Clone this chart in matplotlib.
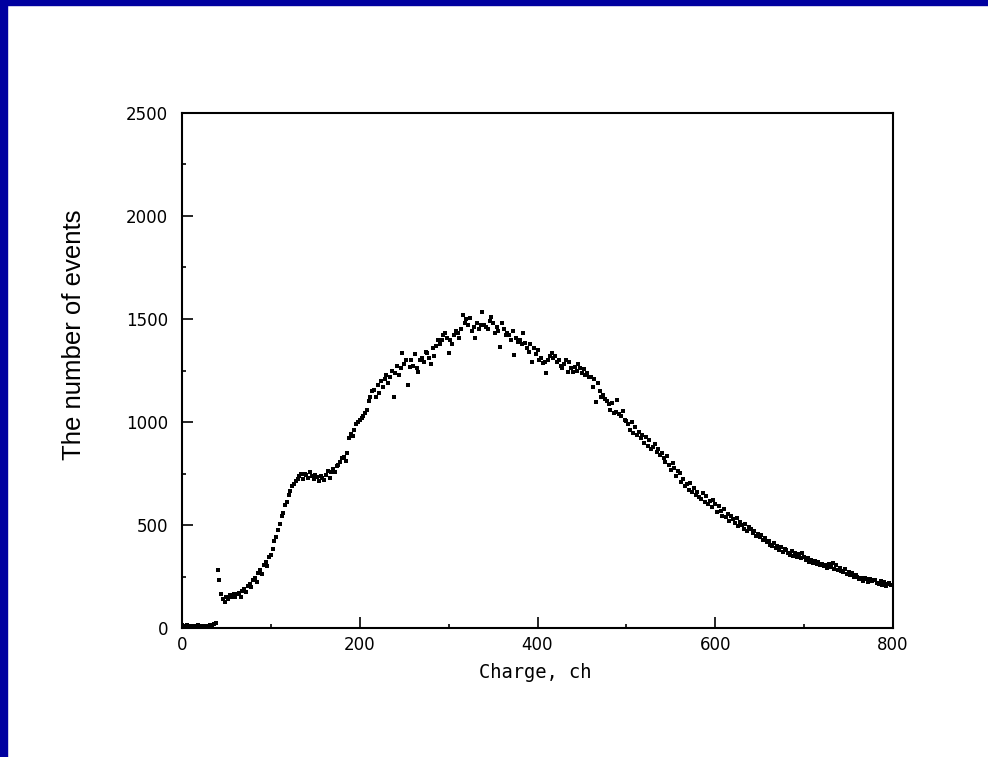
import numpy as np
import matplotlib
matplotlib.use('Agg')
import matplotlib.pyplot as plt
from matplotlib.patches import Rectangle
from matplotlib.ticker import MultipleLocator

# channel bins, 2 ch wide
charge = np.arange(0, 800, 2)

# counts per bin, 20 ch per row
counts = [
    15, 12, 10, 14, 8, 12, 10, 9, 11, 13,
    10, 8, 12, 10, 9, 11, 14, 12, 20, 25,
    280, 235, 165, 140, 126, 150, 140, 160, 150, 165,
    150, 165, 170, 150, 180, 190, 175, 205, 215, 200,
    235, 245, 225, 265, 280, 260, 305, 320, 300, 345,
    355, 385, 420, 440, 475, 505, 545, 560, 595, 610,
    645, 665, 690, 700, 715, 725, 740, 750, 725, 750,
    745, 730, 755, 740, 725, 745, 735, 715, 740, 730,
    720, 745, 760, 730, 755, 770, 755, 785, 790, 805,
    825, 830, 810, 850, 920, 940, 930, 960, 990, 1000,
    1010, 1020, 1030, 1045, 1060, 1100, 1120, 1150, 1155, 1120,
    1180, 1140, 1200, 1170, 1210, 1230, 1190, 1220, 1250, 1120,
    1240, 1270, 1230, 1260, 1335, 1280, 1300, 1180, 1265, 1300,
    1270, 1330, 1260, 1245, 1300, 1310, 1290, 1340, 1335, 1310,
    1280, 1360, 1320, 1370, 1398, 1380, 1400, 1420, 1432, 1410,
    1335, 1400, 1380, 1420, 1440, 1432, 1410, 1450, 1520, 1480,
    1500, 1470, 1505, 1440, 1460, 1408, 1480, 1450, 1470, 1534,
    1470, 1461, 1450, 1490, 1510, 1480, 1432, 1460, 1440, 1364,
    1480, 1450, 1420, 1430, 1422, 1400, 1440, 1325, 1410, 1390,
    1400, 1380, 1432, 1383, 1360, 1340, 1380, 1291, 1360, 1330,
    1350, 1300, 1310, 1287, 1290, 1238, 1300, 1320, 1335, 1310,
    1320, 1291, 1300, 1270, 1260, 1280, 1300, 1243, 1290, 1260,
    1243, 1267, 1250, 1280, 1260, 1240, 1255, 1230, 1240, 1220,
    1219, 1170, 1210, 1097, 1189, 1150, 1120, 1131, 1110, 1100,
    1085, 1060, 1090, 1044, 1050, 1107, 1040, 1030, 1055, 1010,
    1005, 990, 960, 1000, 947, 975, 935, 950, 920, 935,
    900, 925, 885, 913, 870, 880, 895, 855, 870, 840,
    850, 825, 805, 835, 790, 767, 800, 775, 740, 760,
    752, 710, 725, 690, 700, 670, 705, 660, 680, 645,
    660, 635, 625, 655, 610, 640, 600, 615, 585, 620,
    600, 565, 590, 570, 545, 580, 540, 555, 520, 545,
    530, 510, 535, 495, 515, 500, 480, 505, 470, 490,
    480, 460, 470, 445, 455, 440, 450, 425, 435, 418,
    420, 405, 398, 415, 390, 400, 380, 392, 370, 385,
    379, 365, 355, 372, 350, 365, 345, 358, 340, 364,
    345, 330, 338, 320, 332, 316, 325, 310, 320, 305,
    312, 300, 306, 292, 310, 298, 316, 288, 306, 282,
    290, 278, 270, 285, 262, 270, 255, 265, 248, 258,
    250, 238, 245, 230, 242, 236, 225, 240, 228, 232,
    233, 220, 215, 228, 210, 222, 205, 215, 218, 208,
]

fig = plt.figure(figsize=(9.88, 7.57), dpi=100)
fig.patch.set_facecolor('white')

# dark blue frame along the top and left edges
fig.patches.append(Rectangle((0, 0), 7 / 988, 1, transform=fig.transFigure,
                             color='#0000a0', zorder=0))
fig.patches.append(Rectangle((0, 1 - 5 / 757), 1, 5 / 757, transform=fig.transFigure,
                             color='#0000a0', zorder=0))

ax = fig.add_axes([182 / 988, 129 / 757, 711 / 988, 515 / 757])
ax.plot(charge, counts, 's', color='black', markersize=3.2, markeredgewidth=0)

ax.set_xlim(0, 800)
ax.set_ylim(0, 2500)
ax.xaxis.set_major_locator(MultipleLocator(200))
ax.xaxis.set_minor_locator(MultipleLocator(100))
ax.yaxis.set_major_locator(MultipleLocator(500))
ax.yaxis.set_minor_locator(MultipleLocator(250))
ax.tick_params(which='major', direction='in', length=8, width=1.2,
               labelsize=12, top=False, right=False)
ax.tick_params(axis='x', which='major', pad=6)
ax.tick_params(axis='y', which='major', pad=10)
ax.tick_params(which='minor', direction='in', length=3, width=1.2,
               top=False, right=False)
for spine in ax.spines.values():
    spine.set_linewidth(1.5)

ax.set_xlabel('Charge, ch', fontsize=13.5, family='DejaVu Sans Mono')
ax.xaxis.set_label_coords(0.4965, -0.068)
ax.set_ylabel('The number of events', fontsize=18.5, family='Liberation Sans',
              va='center')
ax.yaxis.set_label_coords(-0.152, 0.569)

fig.savefig('out.png', dpi=100)
